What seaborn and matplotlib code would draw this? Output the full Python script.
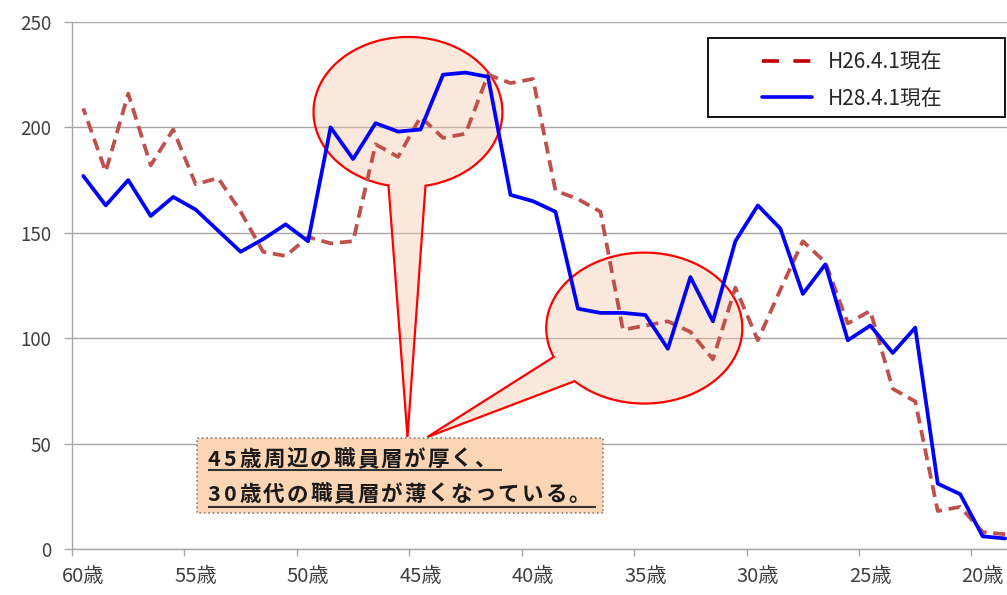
import matplotlib.pyplot as plt
import seaborn as sns
import pandas as pd
import numpy as np
from matplotlib.patches import Polygon, Rectangle
from matplotlib.lines import Line2D

# age (years) from 60 down to 19
ages = list(range(60, 18, -1))
h26 = [209, 179, 216, 182, 199, 173, 176, 160, 141, 139,
       148, 145, 146, 192, 186, 205, 195, 197, 225, 221,
       223, 170, 166, 160, 104, 106, 108, 103, 90, 124,
       99, 123, 146, 136, 107, 113, 76, 70, 18, 20,
       8, 7]
h28 = [177, 163, 175, 158, 167, 161, 151, 141, 147, 154,
       146, 200, 185, 202, 198, 199, 225, 226, 224, 168,
       165, 160, 114, 112, 112, 111, 95, 129, 108, 146,
       163, 152, 121, 135, 99, 106, 93, 105, 31, 26,
       6, 5]
series_names = ["H26.4.1現在", "H28.4.1現在"]
tick_ages = [60, 55, 50, 45, 40, 35, 30, 25, 20]
y_ticks = [0, 50, 100, 150, 200, 250]
note_lines = ["45歳周辺の職員層が厚く、", "30歳代の職員層が薄くなっている。"]

df = pd.DataFrame({
    "age": ages * 2,
    "count": h26 + h28,
    "series": [series_names[0]] * len(ages) + [series_names[1]] * len(ages),
})

sns.set_style("whitegrid")
plt.rcParams['font.family'] = ['Noto Sans CJK JP', 'DejaVu Sans']

fig = plt.figure(figsize=(10.07, 5.95), dpi=100)
ax = fig.add_axes([72 / 1007, 46 / 595, 935 / 1007, 527 / 595])

sns.lineplot(data=df, x="age", y="count", hue="series", style="series",
             palette={series_names[0]: "#C0504D", series_names[1]: "#0000FF"},
             dashes={series_names[0]: (3.2, 1.8), series_names[1]: ""},
             linewidth=2.7, legend=False, ax=ax, zorder=3)

ax.set_xlim(60.476, 18.92)
ax.set_ylim(0, 250)
ax.set_xlabel("")
ax.set_ylabel("")
ax.set_yticks(y_ticks)
ax.set_xticks(tick_ages)
ax.set_xticklabels([f"{a}歳" for a in tick_ages])
ax.set_xticks([a + 0.5 for a in tick_ages], minor=True)
ax.tick_params(axis='x', which='major', length=0, pad=12, labelsize=14.5, labelcolor='#404040')
ax.tick_params(axis='x', which='minor', length=5, width=1, color='#A6A6A6', bottom=True)
ax.tick_params(axis='y', length=6, width=1, color='#A6A6A6', left=True, pad=9,
               labelsize=13.5, labelcolor='#404040')
ax.xaxis.grid(False)
ax.yaxis.grid(True, color='#A6A6A6', lw=1)
for s in ['top', 'right']:
    ax.spines[s].set_visible(False)
for s in ['left', 'bottom']:
    ax.spines[s].set_color('#A6A6A6')
    ax.spines[s].set_linewidth(1)


def callout(ax, center, rx, ry, gap, tip):
    # ellipse balloon with a pointer; gap angles in screen degrees
    cx, cy = ax.transData.transform(center)
    ex, ey = ax.transData.transform((center[0] - rx, center[1] + ry))
    prx, pry = abs(ex - cx), abs(ey - cy)
    a1, a2 = np.radians(gap)
    t = np.linspace(a2, a1 + 2 * np.pi, 300)
    pts = np.column_stack([cx + prx * np.cos(t), cy + pry * np.sin(t)])
    pts = np.vstack([pts, ax.transData.transform(tip)])
    poly = Polygon(ax.transData.inverted().transform(pts), closed=True,
                   facecolor=(0.95, 0.775, 0.655, 0.4), edgecolor='#FF0000',
                   lw=1.6, zorder=1)
    ax.add_patch(poly)


callout(ax, (45.56, 207.3), 4.2, 35.6, (-101.9, -79.3), (45.58, 53.1))
callout(ax, (35.05, 104.8), 4.36, 35.8, (202.5, 224.7), (44.70, 53.1))

ax.add_patch(Rectangle((36.88, 17.1), 18.08, 35.6, facecolor='#FCD5B5',
                       edgecolor='#808080', lw=1.2, linestyle=':', zorder=4))

# note text, set character by character to mimic the wide spacing
px_per_year = 22.5
for txt, yv, uy in zip(note_lines, [42.6, 26.0], [37.3, 20.0]):
    x = 54.47
    for ch in txt:
        ax.text(x, yv, ch, fontsize=15.5, fontweight='bold', color='#1a1a1a',
                va='center', ha='left', zorder=5)
        x -= (16.0 if ch.isdigit() else 23.5) / px_per_year
    end = x - 4 / px_per_year
    ax.plot([54.47, end], [uy, uy], color='#333333', lw=1.5, zorder=5,
            solid_capstyle='butt')

# legend
handles = [Line2D([], [], color='#C00000', lw=2.6, dashes=(4.7, 4.0)),
           Line2D([], [], color='#0000FF', lw=2.6)]
ax.add_patch(Rectangle((0.680, 0.820), 0.318, 0.150, transform=ax.transAxes,
                       facecolor='white', edgecolor='black', lw=1.3, zorder=5))
leg = ax.legend(handles, series_names, loc='upper left', bbox_to_anchor=(0.738, 0.945),
                frameon=False, borderpad=0, borderaxespad=0, handlelength=2.4,
                handletextpad=0.75, labelspacing=0.7, fontsize=15)
leg.set_zorder(6)

fig.savefig("out.png", dpi=100)
plt.close()
